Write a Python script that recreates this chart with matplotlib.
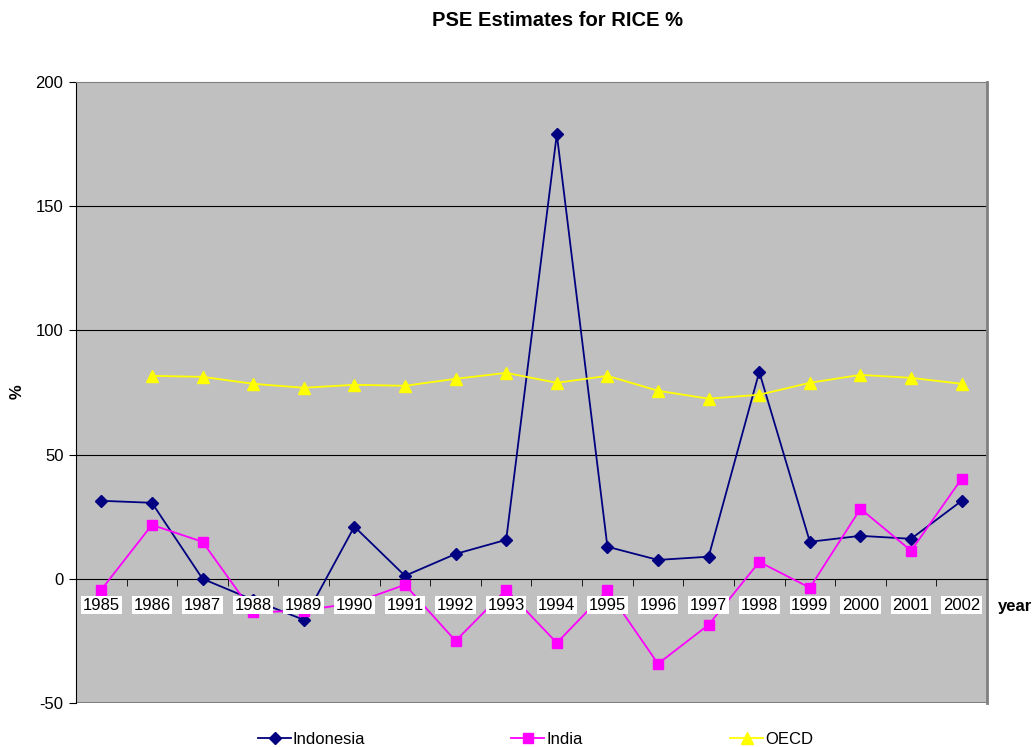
import numpy as np
import matplotlib.pyplot as plt

plt.rcParams['font.family'] = ['Liberation Sans', 'DejaVu Sans']
plt.rcParams['axes.unicode_minus'] = False

years = ['1985', '1986', '1987', '1988', '1989', '1990', '1991', '1992', '1993',
         '1994', '1995', '1996', '1997', '1998', '1999', '2000', '2001', '2002']
indonesia = [31.4, 30.6, 0.0, -8.5, -16.5, 21.0, 1.2, 10.0, 15.7,
             179.0, 12.9, 7.6, 8.9, 83.3, 14.9, 17.3, 16.1, 31.4]
india = [-4.4, 21.7, 14.9, -13.5, -12.8, -9.7, -2.4, -25.0, -4.4,
         -25.8, -4.7, -34.2, -18.5, 6.8, -3.6, 28.2, 11.3, 40.3]
oecd = [np.nan, 81.7, 81.3, 78.5, 76.9, 78.1, 77.7, 80.5, 82.9,
        78.9, 81.7, 75.7, 72.5, 74.1, 78.9, 82.1, 80.9, 78.5]

x = np.arange(len(years))

fig = plt.figure(figsize=(10.36, 7.47), dpi=100)
ax = fig.add_axes([76/1036, 1-703/747, (987-76)/1036, (703-82)/747])
ax.set_facecolor('#C0C0C0')

for y in [50, 100, 150]:
    ax.axhline(y, color='black', lw=0.8, zorder=1)
ax.axhline(-50, color='#808080', lw=1.5, zorder=1)

l1, = ax.plot(x, indonesia, color='#000080', marker='D', ms=6, lw=1.3, label='Indonesia', zorder=3)
l2, = ax.plot(x, india, color='#FF00FF', marker='s', ms=7, lw=1.3, label='India', zorder=3)
l3, = ax.plot(x, oecd, color='#FFFF00', marker='^', ms=8, lw=1.3, label='OECD', zorder=3)

ax.set_xlim(-0.5, len(years) - 0.5)
ax.set_ylim(-50, 200)
ax.set_yticks([-50, 0, 50, 100, 150, 200])
ax.tick_params(axis='y', direction='out', length=5, labelsize=12, pad=4)

ax.spines['bottom'].set_position(('data', 0))
ax.spines['bottom'].set_color('black')
ax.spines['top'].set_color('#808080')
ax.spines['right'].set_color('#808080')
ax.spines['right'].set_linewidth(2)
ax.spines['left'].set_color('black')
for sp in ax.spines.values():
    sp.set_zorder(2)

ax.set_xticks(x)
ax.set_xticklabels(years)
ax.set_xticks(np.arange(0.5, len(years) - 0.5, 1), minor=True)
ax.tick_params(axis='x', which='major', length=0, labelsize=12, pad=13.5)
ax.tick_params(axis='x', which='minor', direction='out', length=5)
for lab in ax.get_xticklabels():
    lab.set_bbox(dict(facecolor='white', edgecolor='none', pad=1.2))
ax.xaxis.set_zorder(5)

fig.text(558/1036, 1-20/747, 'PSE Estimates for RICE %', ha='center', va='center',
         fontsize=14.5, fontweight='bold')
fig.text(17/1036, 1-392/747, '%', ha='center', va='center', rotation=90,
         fontsize=12, fontweight='bold')
fig.text(1015/1036, 1-607/747, 'year', ha='center', va='center',
         fontsize=12, fontweight='bold')

for h, xl in [(l1, 258), (l2, 511), (l3, 730)]:
    fig.legend(handles=[h], loc='center left', bbox_to_anchor=(xl/1036, 1-739/747),
               frameon=False, fontsize=12, handlelength=2.0, handletextpad=0.1,
               borderaxespad=0, borderpad=0)

fig.savefig('out.png', dpi=100)
